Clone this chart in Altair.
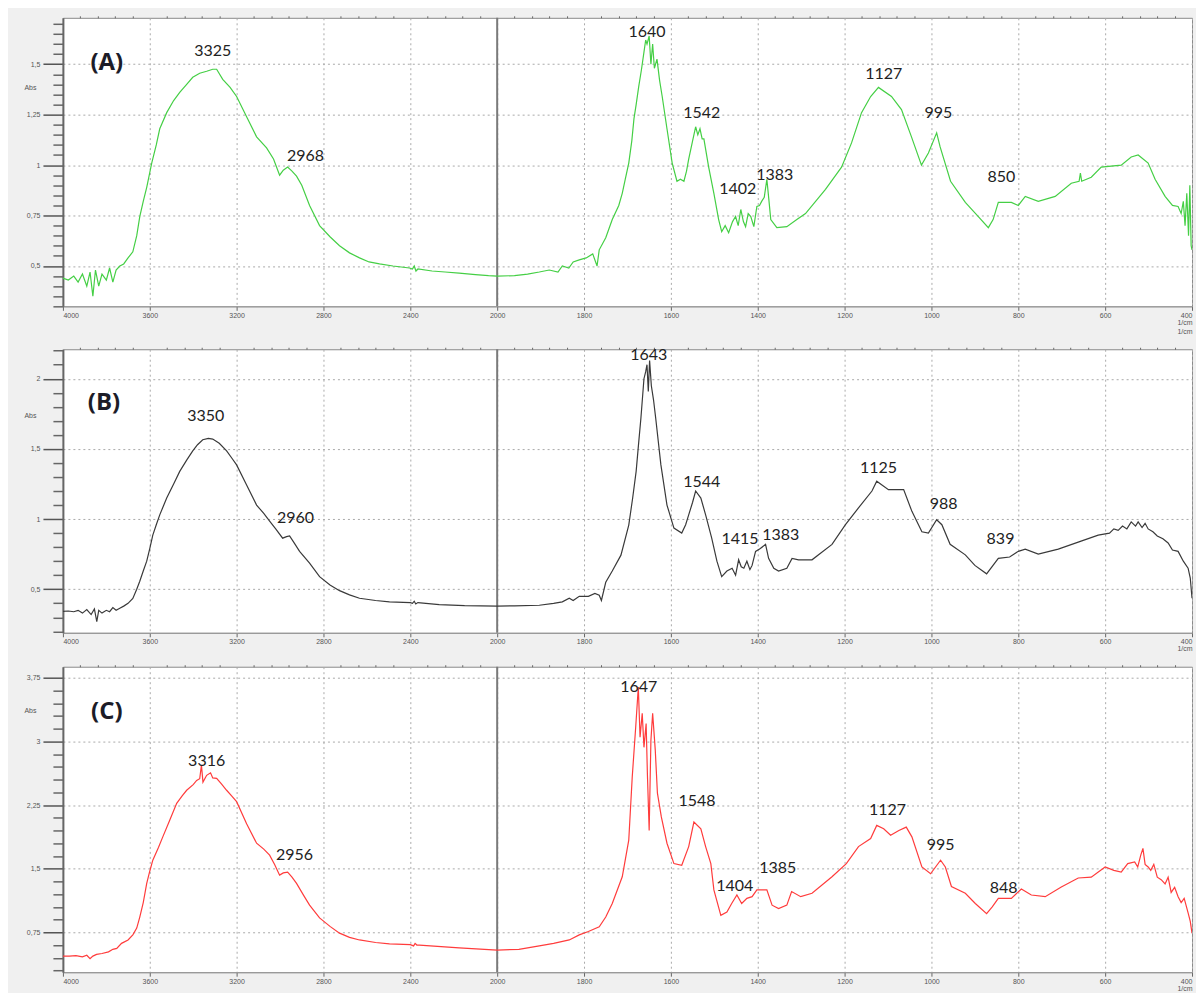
import altair as alt
import pandas as pd

# ---------------- data: panel A (green) ----------------
A_WN = [4000, 3975, 3950, 3930, 3910, 3890, 3875, 3862, 3850, 3835, 3820, 3800, 3785, 3770, 3755, 3738,
        3720, 3700, 3678, 3660, 3646, 3630, 3614, 3591, 3570, 3554, 3522, 3490, 3462, 3430, 3402, 3370,
        3338, 3310, 3292, 3264, 3230, 3200, 3154, 3108, 3062, 3030, 3002, 2985, 2965, 2945, 2924, 2900,
        2864, 2818, 2770, 2726, 2680, 2634, 2590, 2542, 2480, 2404, 2390, 2382, 2374, 2365, 2300, 2240,
        2175, 2100, 2040, 2000, 1960, 1930, 1903, 1880, 1860, 1850, 1835, 1825, 1811, 1795, 1780, 1770,
        1765, 1750, 1735, 1720, 1712, 1705, 1697, 1690, 1685, 1680, 1674, 1668, 1662, 1658, 1655, 1650,
        1646, 1642, 1638, 1632, 1626, 1620, 1609, 1597, 1586, 1578, 1570, 1564, 1559, 1550, 1543, 1538,
        1533, 1528, 1524, 1513, 1501, 1490, 1483, 1475, 1467, 1458, 1451, 1445, 1439, 1433, 1428, 1422,
        1416, 1409, 1402, 1396, 1391, 1385, 1379, 1374, 1370, 1356, 1333, 1310, 1290, 1244, 1207, 1184,
        1161, 1140, 1122, 1092, 1069, 1046, 1023, 1007, 988, 980, 956, 922, 892, 869, 858, 846,
        816, 800, 784, 754, 715, 678, 660, 657, 654, 632, 609, 563, 540, 524, 501, 485,
        462, 445, 432, 425, 420, 416, 412, 408, 405, 402, 400]
A_ABS = [0.44, 0.43, 0.45, 0.42, 0.46, 0.40, 0.47, 0.35, 0.48, 0.40, 0.46, 0.43, 0.49, 0.42, 0.48, 0.50,
         0.51, 0.54, 0.57, 0.65, 0.745, 0.82, 0.89, 1.01, 1.10, 1.18, 1.26, 1.32, 1.36, 1.40, 1.435, 1.455,
         1.465, 1.475, 1.475, 1.425, 1.385, 1.34, 1.24, 1.14, 1.085, 1.03, 0.95, 0.975, 0.99, 0.97, 0.945, 0.90,
         0.80, 0.70, 0.645, 0.60, 0.565, 0.54, 0.52, 0.51, 0.50, 0.49, 0.485, 0.50, 0.475, 0.485, 0.475, 0.47,
         0.465, 0.457, 0.452, 0.45, 0.452, 0.46, 0.47, 0.48, 0.47, 0.50, 0.49, 0.52, 0.53, 0.54, 0.56, 0.50,
         0.58, 0.64, 0.73, 0.80, 0.86, 0.93, 1.01, 1.12, 1.23, 1.30, 1.39, 1.47, 1.56, 1.62, 1.60, 1.64,
         1.50, 1.60, 1.48, 1.525, 1.42, 1.34, 1.18, 1.01, 0.92, 0.93, 0.92, 0.97, 1.03, 1.12, 1.19, 1.15,
         1.18, 1.13, 1.13, 0.99, 0.86, 0.73, 0.67, 0.70, 0.665, 0.72, 0.745, 0.70, 0.78, 0.72, 0.695, 0.76,
         0.745, 0.695, 0.795, 0.80, 0.82, 0.84, 0.93, 0.82, 0.73, 0.69, 0.695, 0.73, 0.76, 0.88, 0.99, 1.11,
         1.26, 1.34, 1.385, 1.34, 1.275, 1.14, 1.00, 1.06, 1.16, 1.09, 0.92, 0.815, 0.745, 0.69, 0.73, 0.815,
         0.815, 0.80, 0.845, 0.82, 0.845, 0.91, 0.92, 0.96, 0.92, 0.94, 0.99, 1.00, 1.04, 1.05, 1.01, 0.93,
         0.845, 0.80, 0.795, 0.76, 0.82, 0.70, 0.86, 0.65, 0.90, 0.60, 0.58]

# ---------------- data: panel B (black) ----------------
B_WN = [4000, 3975, 3950, 3930, 3910, 3890, 3870, 3855, 3844, 3835, 3820, 3800, 3785, 3770, 3755, 3738,
        3720, 3700, 3678, 3660, 3646, 3630, 3614, 3600, 3586, 3570, 3554, 3522, 3490, 3462, 3430, 3402,
        3380, 3356, 3330, 3310, 3280, 3246, 3220, 3200, 3154, 3108, 3075, 3048, 3020, 2988, 2970, 2956,
        2935, 2910, 2864, 2818, 2770, 2726, 2680, 2634, 2560, 2496, 2400, 2390, 2382, 2375, 2365, 2267,
        2150, 2000, 1960, 1903, 1870, 1850, 1834, 1825, 1811, 1790, 1775, 1765, 1760, 1750, 1735, 1715,
        1697, 1688, 1680, 1674, 1669, 1662, 1658, 1655, 1652, 1649, 1645, 1640, 1635, 1623, 1609, 1593,
        1575, 1566, 1559, 1550, 1543, 1531, 1520, 1506, 1494, 1483, 1471, 1459, 1451, 1444, 1438, 1432,
        1425, 1418, 1413, 1405, 1394, 1382, 1375, 1363, 1352, 1333, 1321, 1306, 1275, 1229, 1198, 1168,
        1137, 1126, 1099, 1064, 1045, 1022, 1007, 988, 976, 957, 922, 900, 873, 846, 820, 800,
        784, 754, 708, 662, 616, 590, 580, 570, 560, 550, 540, 530, 524, 515, 508, 501,
        490, 480, 467, 455, 445, 432, 420, 409, 404, 400]
B_ABS = [0.343, 0.345, 0.34, 0.35, 0.33, 0.355, 0.32, 0.36, 0.27, 0.35, 0.33, 0.35, 0.34, 0.37, 0.35, 0.365,
         0.38, 0.40, 0.435, 0.50, 0.557, 0.63, 0.70, 0.79, 0.886, 0.96, 1.03, 1.15, 1.25, 1.34, 1.42, 1.486,
         1.53, 1.565, 1.575, 1.57, 1.54, 1.486, 1.43, 1.386, 1.243, 1.10, 1.04, 0.986, 0.93, 0.864, 0.875, 0.88,
         0.83, 0.77, 0.686, 0.59, 0.53, 0.49, 0.46, 0.436, 0.42, 0.41, 0.405, 0.40, 0.415, 0.395, 0.405, 0.39,
         0.383, 0.38, 0.382, 0.386, 0.40, 0.41, 0.436, 0.42, 0.45, 0.45, 0.47, 0.457, 0.42, 0.55, 0.63, 0.743,
         0.957, 1.15, 1.34, 1.55, 1.72, 2.0, 2.05, 2.1, 1.91, 2.13, 1.95, 1.85, 1.72, 1.386, 1.10, 0.936,
         0.90, 0.96, 1.03, 1.12, 1.20, 1.15, 1.03, 0.864, 0.70, 0.59, 0.63, 0.65, 0.60, 0.71, 0.66, 0.65,
         0.70, 0.64, 0.67, 0.77, 0.79, 0.82, 0.72, 0.65, 0.63, 0.65, 0.72, 0.71, 0.71, 0.82, 0.96, 1.08,
         1.20, 1.27, 1.21, 1.21, 1.055, 0.91, 0.90, 0.995, 0.96, 0.82, 0.745, 0.67, 0.61, 0.72, 0.73, 0.77,
         0.786, 0.75, 0.786, 0.836, 0.886, 0.90, 0.93, 0.92, 0.95, 0.93, 0.98, 0.95, 0.98, 0.94, 0.97, 0.93,
         0.91, 0.88, 0.86, 0.83, 0.78, 0.77, 0.70, 0.65, 0.58, 0.436]

# ---------------- data: panel C (red) ----------------
C_WN = [4000, 3970, 3940, 3910, 3890, 3875, 3862, 3845, 3820, 3790, 3770, 3752, 3730, 3700, 3678, 3660,
        3646, 3630, 3614, 3600, 3586, 3560, 3540, 3510, 3476, 3450, 3430, 3400, 3384, 3370, 3362, 3355,
        3338, 3320, 3310, 3292, 3270, 3246, 3220, 3200, 3154, 3108, 3075, 3048, 3025, 3002, 2985, 2965,
        2945, 2924, 2890, 2864, 2818, 2770, 2726, 2680, 2634, 2560, 2496, 2400, 2385, 2378, 2370, 2358,
        2175, 2000, 1950, 1903, 1870, 1834, 1811, 1790, 1765, 1750, 1735, 1712, 1697, 1689, 1681, 1675,
        1671, 1666, 1662, 1657, 1654, 1650, 1646, 1642, 1636, 1631, 1622, 1609, 1593, 1575, 1559, 1547,
        1531, 1520, 1508, 1501, 1485, 1471, 1460, 1448, 1437, 1425, 1413, 1402, 1386, 1379, 1367, 1352,
        1333, 1322, 1301, 1275, 1229, 1196, 1168, 1140, 1126, 1110, 1094, 1075, 1058, 1045, 1022, 1002,
        979, 968, 954, 922, 899, 873, 860, 846, 816, 793, 770, 738, 701, 662, 632, 600,
        580, 563, 548, 532, 525, 518, 513, 508, 501, 495, 488, 480, 471, 462, 455, 448,
        440, 432, 425, 418, 409, 404, 400]
C_ABS = [0.47, 0.47, 0.475, 0.46, 0.48, 0.44, 0.47, 0.49, 0.50, 0.52, 0.55, 0.56, 0.62, 0.66, 0.72, 0.80,
         0.93, 1.10, 1.326, 1.47, 1.60, 1.75, 1.875, 2.06, 2.27, 2.36, 2.424, 2.49, 2.54, 2.56, 2.72, 2.52,
         2.60, 2.63, 2.57, 2.565, 2.50, 2.424, 2.35, 2.29, 2.03, 1.80, 1.73, 1.66, 1.55, 1.424, 1.45, 1.46,
         1.40, 1.326, 1.18, 1.07, 0.92, 0.82, 0.74, 0.69, 0.66, 0.63, 0.615, 0.605, 0.59, 0.62, 0.60, 0.60,
         0.566, 0.54, 0.55, 0.59, 0.62, 0.66, 0.72, 0.76, 0.816, 0.93, 1.09, 1.405, 1.836, 2.58, 3.17, 3.64,
         3.05, 3.33, 2.93, 3.21, 2.60, 1.95, 3.01, 3.33, 2.90, 2.39, 2.11, 1.80, 1.56, 1.54, 1.76, 2.05,
         1.97, 1.76, 1.56, 1.25, 0.95, 0.99, 1.09, 1.19, 1.09, 1.15, 1.17, 1.25, 1.25, 1.25, 1.07, 1.03,
         1.07, 1.23, 1.17, 1.21, 1.405, 1.56, 1.76, 1.855, 2.01, 1.97, 1.895, 1.95, 1.99, 1.875, 1.52, 1.44,
         1.60, 1.52, 1.29, 1.21, 1.09, 0.97, 1.05, 1.15, 1.15, 1.26, 1.19, 1.17, 1.285, 1.39, 1.40, 1.52,
         1.48, 1.46, 1.56, 1.58, 1.52, 1.66, 1.74, 1.55, 1.52, 1.48, 1.55, 1.40, 1.37, 1.32, 1.40, 1.22,
         1.28, 1.17, 1.10, 1.15, 0.98, 0.88, 0.74]

# ---------------- peak annotations ----------------
A_LBL = ["3325", "2968", "1640", "1542", "1402", "1383", "1127", "995", "850"]
A_LBL_WN = [3310, 2883, 1655, 1529, 1446, 1361, 1110, 984, 839]
A_LBL_ABS = [1.565, 1.047, 1.66, 1.26, 0.88, 0.95, 1.45, 1.256, 0.94]

B_LBL = ["3350", "2960", "1643", "1544", "1415", "1383", "1125", "988", "839"]
B_LBL_WN = [3342, 2929, 1651, 1529, 1441, 1347, 1122, 972, 841]
B_LBL_ABS = [1.735, 1.007, 2.17, 1.264, 0.857, 0.886, 1.364, 1.107, 0.857]

C_LBL = ["3316", "2956", "1647", "1548", "1404", "1385", "1127", "995", "848"]
C_LBL_WN = [3338, 2933, 1674, 1540, 1453, 1354, 1101, 979, 834]
C_LBL_ABS = [2.77, 1.66, 3.64, 2.30, 1.30, 1.51, 2.19, 1.78, 1.27]

TAGS = ["(A)", "(B)", "(C)"]
TAG_WN = [3798, 3811, 3798]
TAG_ABS = [1.505, 1.83, 3.35]

X_MAJOR = [4000, 3600, 3200, 2800, 2400, 2000, 1800, 1600, 1400, 1200, 1000, 800, 600, 400]
X_MINOR = [w for w in range(3920, 2000, -80) if w % 400] + [w for w in range(1960, 400, -40) if w % 200]

PLOT_W = 1131
X_SCALE = alt.Scale(domain=[4000, 2000, 400], range=[0, 435, PLOT_W], nice=False, zero=False)

LABEL_FONT = "Liberation Sans"
COMMA = "replace(toString(datum.value), '.', ',')"


def minor_vals(lo, hi, step, majors):
    out = []
    k = 0
    while True:
        v = round(lo + k * step, 4)
        if v > hi:
            break
        if all(abs(v - m) > 1e-6 for m in majors):
            out.append(v)
        k += 1
    return out


def panel(wn, ab, color, ydom, ymajor, ystep, ylo, lbl, lbl_wn, lbl_ab, tag, tag_wn, tag_ab,
          height, abs_y, xtitle):
    df = pd.DataFrame({"wn": wn, "abs": ab})
    ys = alt.Scale(domain=ydom, nice=False, zero=False)
    yminor = minor_vals(ylo, ydom[1], ystep, ymajor)

    line = alt.Chart(df).mark_line(color=color, strokeWidth=1.2, clip=True).encode(
        x=alt.X("wn:Q", scale=X_SCALE,
                axis=alt.Axis(values=X_MAJOR, format="d", grid=True, gridDash=[2, 3],
                              gridColor="#aaaaaa", tickSize=4, tickColor="#666",
                              labelFontSize=7, labelColor="#555", labelFont=LABEL_FONT,
                              labelPadding=1, domainColor="#999", title=xtitle,
                              titleFontSize=7, titleFont=LABEL_FONT, titleFontWeight="normal",
                              titleColor="#555", titleAnchor="end", titlePadding=0,
                              titleLineHeight=9)),
        y=alt.Y("abs:Q", scale=ys,
                axis=alt.Axis(values=ymajor, labelExpr=COMMA, grid=True, gridDash=[2, 3],
                              gridColor="#aaaaaa", tickSize=20, tickWidth=1.5, tickColor="#555",
                              labelFontSize=7, labelColor="#555", labelFont=LABEL_FONT,
                              labelPadding=3, domainColor="#666", domainWidth=2,
                              title="Abs", titleAngle=0, titleX=-33, titleY=abs_y,
                              titleAlign="center", titleBaseline="middle", titleFontSize=7,
                              titleFont=LABEL_FONT, titleFontWeight="normal", titleColor="#555")),
    )
    minor = alt.Chart(df).mark_point(opacity=0).encode(
        x=alt.X("wn:Q", scale=X_SCALE,
                axis=alt.Axis(values=X_MINOR, labels=False, grid=False, domain=False,
                              tickSize=2, tickColor="#666", title=None)),
        y=alt.Y("abs:Q", scale=ys,
                axis=alt.Axis(orient="left", values=yminor, labels=False, grid=False,
                              domain=False, tickSize=10, tickWidth=1.5, tickColor="#666", title=None)),
    )
    split = alt.Chart(pd.DataFrame({"wn": [2000]})).mark_rule(color="#7a7a7a", strokeWidth=2).encode(
        x=alt.X("wn:Q", scale=X_SCALE, axis=None)
    )
    ldf = pd.DataFrame({"wn": lbl_wn, "abs": lbl_ab, "txt": lbl})
    labels = alt.Chart(ldf).mark_text(font="Lato", fontSize=16, color="#222",
                                      align="center", baseline="middle").encode(
        x=alt.X("wn:Q", scale=X_SCALE, axis=None),
        y=alt.Y("abs:Q", scale=ys, axis=None),
        text="txt:N",
    )
    tdf = pd.DataFrame({"wn": [tag_wn], "abs": [tag_ab], "txt": [tag]})
    tagm = alt.Chart(tdf).mark_text(font="Open Sans", fontSize=24, fontWeight="bold", color="#1c1c28",
                                    align="center", baseline="middle").encode(
        x=alt.X("wn:Q", scale=X_SCALE, axis=None),
        y=alt.Y("abs:Q", scale=ys, axis=None),
        text="txt:N",
    )
    return alt.layer(split, line, minor, labels, tagm).resolve_axis(
        x="independent", y="independent"
    ).properties(width=PLOT_W, height=height)


pA = panel(A_WN, A_ABS, "#45cf45", [0.3, 1.73], [0.5, 0.75, 1, 1.25, 1.5], 0.05, 0.3,
           A_LBL, A_LBL_WN, A_LBL_ABS, TAGS[0], TAG_WN[0], TAG_ABS[0], 289, 70, ["1/cm", "1/cm"])
pB = panel(B_WN, B_ABS, "#3a3a3a", [0.19, 2.21], [0.5, 1, 1.5, 2], 0.1, 0.2,
           B_LBL, B_LBL_WN, B_LBL_ABS, TAGS[1], TAG_WN[1], TAG_ABS[1], 284, 66, "1/cm")
pC = panel(C_WN, C_ABS, "#ff3c3c", [0.28, 3.88], [0.75, 1.5, 2.25, 3, 3.75], 0.15, 0.3,
           C_LBL, C_LBL_WN, C_LBL_ABS, TAGS[2], TAG_WN[2], TAG_ABS[2], 306, 44, "1/cm")

chart = alt.vconcat(pA, pB, pC, spacing=11).properties(
    background="#f0f0f0",
    padding={"left": 15, "top": 6, "right": 0, "bottom": 0},
).configure_view(fill="white", stroke="#8a8a8a", strokeWidth=1)

chart.save("out.html", embed_options={"renderer": "svg", "actions": False})
